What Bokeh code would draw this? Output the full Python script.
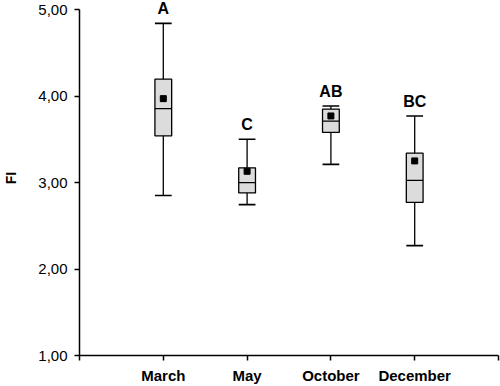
from bokeh.plotting import figure
from bokeh.models import FixedTicker, Range1d, ColumnDataSource
from bokeh.core.properties import value
from bokeh.embed import file_html
from bokeh.resources import INLINE

months = ["March", "May", "October", "December"]
positions = [1, 2, 3, 4]
whisker_low = [2.85, 2.745, 3.21, 2.27]
q1 = [3.54, 2.88, 3.58, 2.77]
median = [3.855, 3.00, 3.71, 3.025]
q3 = [4.195, 3.17, 3.85, 3.34]
whisker_high = [4.84, 3.50, 3.885, 3.77]
means = [3.97, 3.13, 3.77, 3.25]
letters = ["A", "C", "AB", "BC"]
y_ticks = [1, 2, 3, 4, 5]
y_tick_labels = ["1,00", "2,00", "3,00", "4,00", "5,00"]

half = 0.1
src = ColumnDataSource(dict(
    x=positions,
    left=[p - half for p in positions],
    right=[p + half for p in positions],
    lo=whisker_low, q1=q1, med=median, q3=q3, hi=whisker_high,
    mean=means, letter=letters,
))

p = figure(width=500, height=386, output_backend="svg", toolbar_location=None,
           x_range=Range1d(0, 5), y_range=Range1d(1, 5.105),
           min_border_left=75, min_border_right=2, min_border_top=0, min_border_bottom=29)
p.outline_line_color = None
p.xgrid.visible = False
p.ygrid.visible = False

# whisker stems
p.segment(x0="x", y0="lo", x1="x", y1="hi", source=src, line_color="black", line_width=1.3)
# boxes
p.quad(left="left", right="right", bottom="q1", top="q3", source=src,
       fill_color="#dcdcdc", line_color="black", line_width=1.3)
# median
p.segment(x0="left", y0="med", x1="right", y1="med", source=src, line_color="black", line_width=1.3)
# caps
p.segment(x0="left", y0="hi", x1="right", y1="hi", source=src, line_color="black", line_width=1.6)
p.segment(x0="left", y0="lo", x1="right", y1="lo", source=src, line_color="black", line_width=1.6)
# mean
p.scatter(x="x", y="mean", source=src, marker="square", size=6, fill_color="black", line_color="black")
# letters
p.text(x="x", y="hi", text="letter", source=src, text_align="center", text_baseline="bottom",
       y_offset=-6, text_font=value("Liberation Sans"), text_font_style="bold",
       text_font_size="16px", text_color="black")

# axes
p.xaxis.ticker = FixedTicker(ticks=[0, 1, 2, 3, 4, 5])
xo = {0: "", 5: ""}
for pos, m in zip(positions, months):
    xo[pos] = m
p.xaxis.major_label_overrides = xo
p.xaxis.bounds = (0, 5)
p.yaxis.ticker = FixedTicker(ticks=y_ticks)
p.yaxis.major_label_overrides = {t: l for t, l in zip(y_ticks, y_tick_labels)}
p.yaxis.bounds = (1, 5)

for ax in (p.xaxis, p.yaxis):
    ax.axis_line_color = "black"
    ax.axis_line_width = 1.5
    ax.major_tick_line_color = "black"
    ax.major_tick_line_width = 1.5
    ax.major_tick_out = 5
    ax.major_tick_in = 0
    ax.minor_tick_line_color = None
    ax.major_label_text_font = "Liberation Sans"
    ax.major_label_text_font_size = "15px"
    ax.major_label_text_color = "black"

p.xaxis.major_label_text_font_style = "bold"
p.xaxis.major_label_standoff = 6
p.yaxis.major_label_standoff = 7
p.yaxis.axis_label = "FI"
p.yaxis.axis_label_text_font = "Liberation Sans"
p.yaxis.axis_label_text_font_style = "bold"
p.yaxis.axis_label_text_font_size = "14px"
p.yaxis.axis_label_text_color = "black"
p.yaxis.axis_label_standoff = 16

open("out.html", "w").write(file_html(p, INLINE))
